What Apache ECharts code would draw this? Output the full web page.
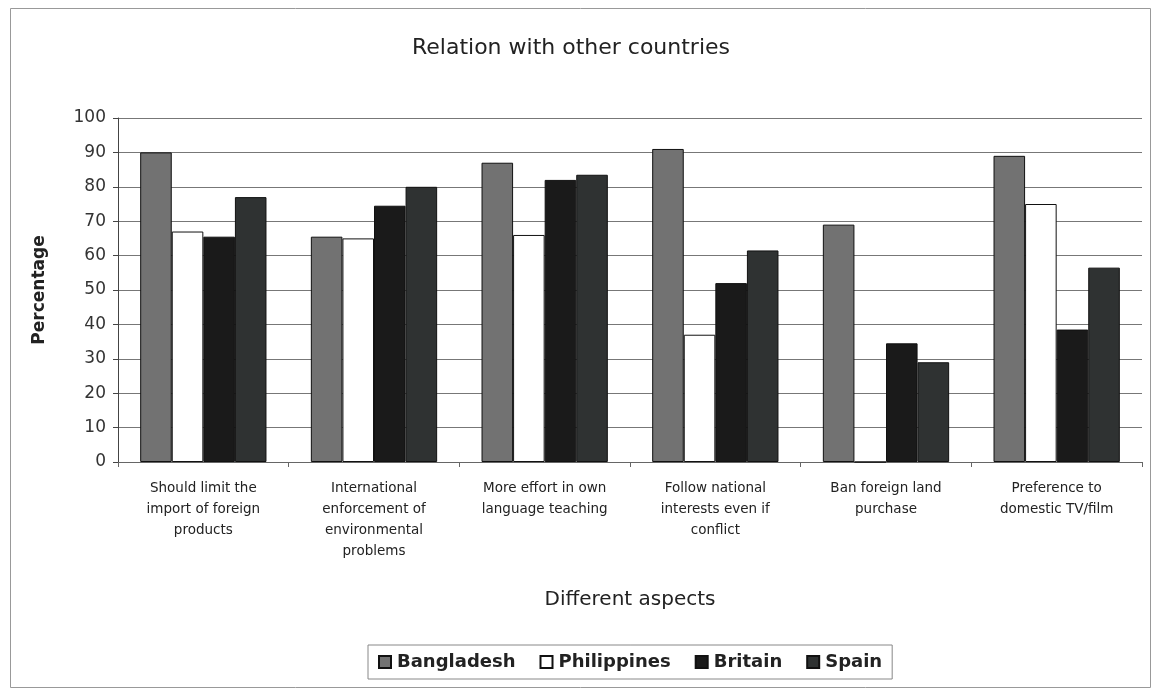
<!DOCTYPE html>
<html><head><meta charset="utf-8">
<script src="https://cdn.jsdelivr.net/npm/echarts@6/dist/echarts.min.js"></script>
<style>html,body{margin:0;padding:0;background:#fff}#c{width:1156px;height:691px}</style>
</head><body><div id="c"></div>
<script>
const categories = [
  "Should limit the\nimport of foreign\nproducts",
  "International\nenforcement of\nenvironmental\nproblems",
  "More effort in own\nlanguage teaching",
  "Follow national\ninterests even if\nconflict",
  "Ban foreign land\npurchase",
  "Preference to\ndomestic TV/film"
];
const bangladesh = [90, 65.5, 87, 91, 69, 89];
const philippines = [67, 65, 66, 37, 0, 75];
const britain = [65.5, 74.5, 82, 52, 34.5, 38.5];
const spain = [77, 80, 83.5, 61.5, 29, 56.5];
const seriesNames = ["Bangladesh", "Philippines", "Britain", "Spain"];
const yTicks = [0,10,20,30,40,50,60,70,80,90,100];

const font = "'DejaVu Sans', 'Liberation Sans', Arial, sans-serif";
const chart = echarts.init(document.getElementById('c'));
function bar(name, data, color) {
  return {
    name, type: 'bar', data, barGap: '0%', barCategoryGap: '26%',
    itemStyle: { color, borderColor: '#111', borderWidth: 1 }
  };
}
chart.setOption({
  animation: false,
  backgroundColor: '#fff',
  title: {
    text: 'Relation with other countries', left: 566, textAlign: 'center', top: 32,
    textStyle: { fontFamily: font, fontSize: 22, fontWeight: 'normal', color: '#222' }
  },
  graphic: [{
    type: 'rect', left: 8, top: 6, shape: { width: 1140, height: 679 },
    style: { fill: 'none', stroke: '#999', lineWidth: 1 }, silent: true
  }],
  grid: { left: 118, right: 14, top: 118, bottom: 229 },
  legend: {
    data: seriesNames, bottom: 12, left: 368, icon: 'rect',
    itemWidth: 12, itemHeight: 12, itemGap: 24,
    borderColor: '#888', borderWidth: 1, padding: [8, 10, 8, 10],
    textStyle: { fontFamily: font, fontSize: 18, fontWeight: 'bold', color: '#222', padding: [0, 0, 0, 1] }
  },
  xAxis: {
    type: 'category', data: categories,
    name: 'Different aspects', nameLocation: 'middle', nameGap: 128,
    nameTextStyle: { fontFamily: font, fontSize: 20, color: '#222' },
    axisLine: { lineStyle: { color: '#666' } },
    axisTick: { show: true, length: 5, lineStyle: { color: '#666' } },
    axisLabel: { interval: 0, fontFamily: font, fontSize: 13.5, color: '#222', lineHeight: 21, margin: 16 }
  },
  yAxis: {
    type: 'value', min: 0, max: 100, interval: 10,
    name: 'Percentage', nameLocation: 'middle', nameGap: 70, nameRotate: 90,
    nameTextStyle: { fontFamily: font, fontSize: 17, fontWeight: 'bold', color: '#222' },
    axisLine: { show: true, lineStyle: { color: '#444' } },
    axisTick: { show: true, length: 5, lineStyle: { color: '#444' } },
    axisLabel: { fontFamily: font, fontSize: 17, color: '#333', margin: 12,
      formatter: v => yTicks.includes(v) ? String(v) : '' },
    splitLine: { lineStyle: { color: '#777', width: 1 } }
  },
  series: [
    bar(seriesNames[0], bangladesh, '#727272'),
    bar(seriesNames[1], philippines, '#ffffff'),
    bar(seriesNames[2], britain, '#1a1a1a'),
    bar(seriesNames[3], spain, '#2f3232')
  ]
});
</script></body></html>
